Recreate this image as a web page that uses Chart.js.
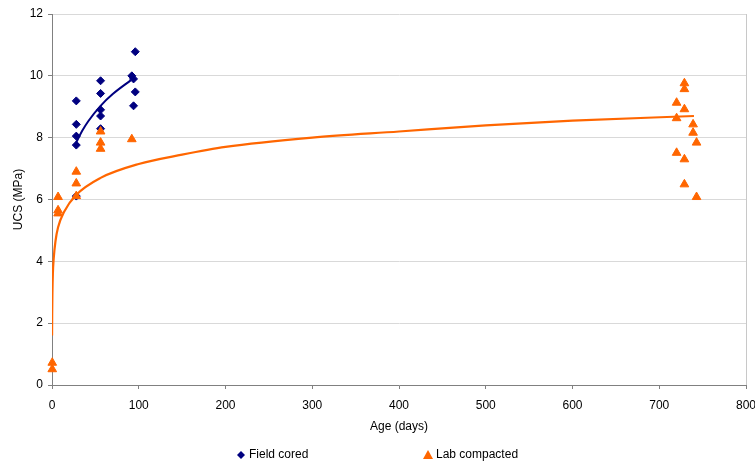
<!DOCTYPE html>
<html>
<head>
<meta charset="utf-8">
<script src="https://cdn.jsdelivr.net/npm/chart.js@4"></script>
<style>
  html, body { margin: 0; padding: 0; background: #ffffff; }
  #wrap { width: 755px; height: 466px; position: relative; }
</style>
</head>
<body>
<div id="wrap"><canvas id="c" width="755" height="466"></canvas></div>
<script>
// ---- data ----
const fieldAge = [28, 28, 28, 28, 28, 56, 56, 56, 56, 56, 92, 94, 96, 96, 94];
const fieldUCS = [9.19, 8.43, 8.05, 7.76, 6.11, 9.84, 9.43, 8.90, 8.70, 8.29, 10.0, 9.9, 10.78, 9.48, 9.03];

const labAge = [0.3, 0.3, 7, 7, 7, 28, 28, 28, 56, 56, 56, 92,
                720, 720, 720, 729, 729, 729, 729, 729, 739, 739, 743, 743];
const labUCS = [0.72, 0.51, 6.08, 5.65, 5.55, 6.90, 6.52, 6.11, 8.20, 7.84, 7.64, 7.95,
                9.13, 8.63, 7.51, 9.76, 9.57, 8.92, 7.30, 6.49, 8.43, 8.16, 7.84, 6.08];

// trendlines
const fieldTrendAge = [28, 35, 42, 56, 70, 91];
const fieldTrendUCS = [7.85, 8.23, 8.54, 9.03, 9.41, 9.86];
const labTrendAge = [0.08, 0.2, 0.5, 1, 2, 4, 7, 14, 28, 56, 100, 150, 200, 300, 400, 500, 600, 740];
const labTrendUCS = [1.6, 2.3, 3.0, 3.6, 4.1, 4.65, 5.1, 5.6, 6.15, 6.7, 7.15, 7.45, 7.7, 8.0, 8.2, 8.4, 8.55, 8.7];

const seriesNames = ['Field cored', 'Lab compacted'];
const xTitle = 'Age (days)';
const yTitle = 'UCS (MPa)';

const NAVY = '#000080';
const ORANGE = '#FF6600';
const FONT = '"Liberation Sans", Arial, sans-serif';

const pts = (xs, ys) => xs.map((x, i) => ({ x: x, y: ys[i] }));

// right frame border of the plot area
const frame = {
  id: 'frame',
  beforeDatasetsDraw(chart) {
    const a = chart.chartArea, ctx = chart.ctx;
    ctx.save();
    ctx.strokeStyle = '#c8c8c8';
    ctx.lineWidth = 1;
    ctx.beginPath();
    ctx.moveTo(Math.round(a.right) + 0.5, a.top);
    ctx.lineTo(Math.round(a.right) + 0.5, a.bottom);
    ctx.stroke();
    ctx.restore();
  }
};

// bottom legend with wide spacing
const bottomLegend = {
  id: 'bottomLegend',
  afterDraw(chart) {
    const ctx = chart.ctx;
    ctx.save();
    ctx.font = '12px ' + FONT;
    ctx.textBaseline = 'middle';
    ctx.textAlign = 'left';
    const y = 455;
    ctx.fillStyle = NAVY;
    ctx.beginPath();
    ctx.moveTo(241 - 4, y); ctx.lineTo(241, y - 4); ctx.lineTo(241 + 4, y); ctx.lineTo(241, y + 4);
    ctx.closePath(); ctx.fill();
    ctx.fillStyle = '#000';
    ctx.fillText(seriesNames[0], 249, y);
    ctx.fillStyle = ORANGE;
    ctx.beginPath();
    ctx.moveTo(428, y - 5); ctx.lineTo(433, y + 4); ctx.lineTo(423, y + 4);
    ctx.closePath(); ctx.fill();
    ctx.fillStyle = '#000';
    ctx.fillText(seriesNames[1], 436, y);
    ctx.restore();
  }
};

new Chart(document.getElementById('c'), {
  type: 'scatter',
  data: {
    datasets: [
      {
        label: 'Field cored trend',
        data: pts(fieldTrendAge, fieldTrendUCS),
        showLine: true, pointRadius: 0, borderColor: NAVY, borderWidth: 2,
        cubicInterpolationMode: 'monotone', fill: false
      },
      {
        label: 'Lab compacted trend',
        data: pts(labTrendAge, labTrendUCS),
        showLine: true, pointRadius: 0, borderColor: ORANGE, borderWidth: 2.2,
        cubicInterpolationMode: 'monotone', fill: false
      },
      {
        label: seriesNames[1],
        data: pts(labAge, labUCS),
        pointStyle: 'triangle', pointRadius: 5, borderWidth: 1,
        backgroundColor: ORANGE, borderColor: ORANGE, clip: false
      },
      {
        label: seriesNames[0],
        data: pts(fieldAge, fieldUCS),
        pointStyle: 'rectRot', pointRadius: 4, borderWidth: 1,
        backgroundColor: NAVY, borderColor: NAVY, clip: false
      }
    ]
  },
  plugins: [frame, bottomLegend],
  options: {
    responsive: false,
    animation: false,
    events: [],
    layout: { padding: { top: 14, right: 9, bottom: 30, left: 0 } },
    plugins: { legend: { display: false }, tooltip: { enabled: false } },
    scales: {
      x: {
        type: 'linear', min: 0, max: 800,
        ticks: { stepSize: 100, color: '#000', font: { size: 12, family: FONT }, padding: 9, maxRotation: 0 },
        grid: { drawOnChartArea: false, drawTicks: true, tickLength: 4, tickColor: '#808080' },
        border: { display: true, color: '#808080', width: 1 },
        title: { display: true, text: xTitle, color: '#000', font: { size: 12, family: FONT }, padding: { top: 0, bottom: 2 } },
        afterFit(s) { s.height = 51; s.paddingRight = 9; s.paddingLeft = 0; }
      },
      y: {
        type: 'linear', min: 0, max: 12,
        ticks: { stepSize: 2, color: '#000', font: { size: 12, family: FONT }, padding: 5 },
        grid: { color: '#d9d9d9', drawTicks: true, tickLength: 4, tickColor: '#808080' },
        border: { display: true, color: '#808080', width: 1 },
        title: { display: true, text: yTitle, color: '#000', font: { size: 12, family: FONT }, padding: { top: 11, bottom: 0 } },
        afterFit(s) { s.width = 52; }
      }
    }
  }
});
</script>
</body>
</html>
